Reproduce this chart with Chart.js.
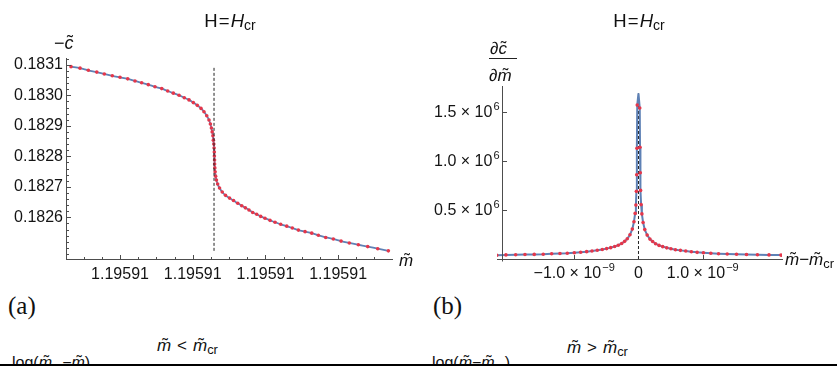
<!DOCTYPE html>
<html>
<head>
<meta charset="utf-8">
<script src="https://cdn.jsdelivr.net/npm/chart.js@4.4.0/dist/chart.umd.min.js"></script>
<style>
  body { margin: 0; background: #fff; }
  #page { position: relative; width: 837px; height: 366px; overflow: hidden;
          font-family: "Liberation Sans", Arial, sans-serif; color: #111; }
  canvas { position: absolute; top: 0; }
  .t { position: absolute; line-height: 1; white-space: nowrap; }
  .it { font-style: italic; }
  .sub { font-size: 0.76em; position: relative; top: 0.22em; font-style: normal; }
  .op { margin: 0 0.06em; }
  .acc { position: relative; display: inline-block; font-style: italic; }
  .acc::after { content: "\02DC"; position: absolute; left: 0.12em; right: 0; top: -0.05em;
                text-align: center; font-style: normal; }
  .serif { font-family: "Liberation Serif", "DejaVu Serif", serif; }
  .frac-bar { position: absolute; height: 1px; background: #222; }
  #rule { position: absolute; left: 0; top: 364px; width: 837px; height: 2px; background: #000; }
</style>
</head>
<body>
<div id="page">
  <canvas id="chartA" width="420" height="290" style="left:0"></canvas>
  <canvas id="chartB" width="417" height="290" style="left:420px"></canvas>

  <div class="t" style="left:130px; top:12px; width:200px; text-align:center; font-size:18.5px">H<span class="op">=</span><span class="it">H</span><span class="sub">cr</span></div>
  <div class="t" style="left:539px; top:12px; width:200px; text-align:center; font-size:18.5px">H<span class="op">=</span><span class="it">H</span><span class="sub">cr</span></div>

  <div class="t" style="left:54px; top:34px; font-size:18px">−<span class="acc">c</span></div>
  <div class="t" style="left:399px; top:252px; font-size:17px"><span class="acc">m</span></div>

  <div class="t" style="left:490px; top:40px; font-size:17px"><span class="it">∂</span><span class="acc">c</span></div>
  <div class="frac-bar" style="left:489px; top:58px; width:28px"></div>
  <div class="t" style="left:489px; top:67px; font-size:17px"><span class="it">∂</span><span class="acc">m</span></div>
  <div class="t" style="left:785px; top:251px; font-size:17px"><span class="acc">m</span>−<span class="acc">m</span><span class="sub">cr</span></div>

  <div class="t serif" style="left:8px; top:293px; font-size:25px">(a)</div>
  <div class="t serif" style="left:433px; top:293px; font-size:25px">(b)</div>

  <div class="t" style="left:157px; top:337px; font-size:17px"><span class="acc">m</span><span class="op" style="margin:0 0.35em">&lt;</span><span class="acc">m</span><span class="sub">cr</span></div>
  <div class="t" style="left:567px; top:339px; font-size:17px"><span class="acc">m</span><span class="op" style="margin:0 0.35em">&gt;</span><span class="acc">m</span><span class="sub">cr</span></div>

  <div class="t" style="left:12px; top:355px; font-size:16px">log(<span class="acc">m</span><span class="sub">cr</span>−<span class="acc">m</span>)</div>
  <div class="t" style="left:432px; top:355px; font-size:16px">log(<span class="acc">m</span>−<span class="acc">m</span><span class="sub">cr</span>)</div>

  <div id="rule"></div>
</div>

<script>
// panel (a): -c against m, x in units of one major tick step
const A_M = [-0.674, -0.550, -0.436, -0.320, -0.216, -0.106, 0.000, 0.106, 0.206, 0.298,
  0.389, 0.481, 0.574, 0.656, 0.733, 0.812, 0.884, 0.949, 1.008, 1.063,
  1.114, 1.155, 1.193, 1.224, 1.243, 1.257, 1.268, 1.278, 1.284, 1.290,
  1.294, 1.297, 1.298, 1.300, 1.301, 1.304, 1.308, 1.315, 1.326, 1.343,
  1.369, 1.406, 1.451, 1.506, 1.561, 1.619, 1.674, 1.724, 1.774, 1.825,
  1.880, 1.935, 1.994, 2.063, 2.132, 2.210, 2.293, 2.370, 2.453, 2.545,
  2.637, 2.728, 2.829, 2.934, 3.040, 3.154, 3.278, 3.407, 3.545, 3.691];
const A_C = [0.183094, 0.183089, 0.183082, 0.183076, 0.183070, 0.183064, 0.183059, 0.183054, 0.183047, 0.183041,
  0.183035, 0.183028, 0.183022, 0.183014, 0.183007, 0.183000, 0.182992, 0.182985, 0.182976, 0.182967,
  0.182957, 0.182946, 0.182933, 0.182919, 0.182906, 0.182893, 0.182880, 0.182867, 0.182853, 0.182840,
  0.182827, 0.182814, 0.182801, 0.182788, 0.182775, 0.182762, 0.182749, 0.182735, 0.182722, 0.182709,
  0.182696, 0.182683, 0.182672, 0.182663, 0.182655, 0.182646, 0.182638, 0.182631, 0.182624, 0.182616,
  0.182610, 0.182603, 0.182597, 0.182590, 0.182584, 0.182577, 0.182571, 0.182565, 0.182558, 0.182553,
  0.182548, 0.182541, 0.182534, 0.182529, 0.182522, 0.182516, 0.182510, 0.182504, 0.182497, 0.182490];
const A_MCR = 1.293;
const A_MCR_SPAN = [0.182490, 0.183096];
const A_X_TICKS = [0, 1, 2, 3];
const A_X_LABELS = ['1.19591', '1.19591', '1.19591', '1.19591'];
const A_X_MINOR = [-0.5, -0.25, 0.25, 0.5, 0.75, 1.25, 1.5, 1.75, 2.25, 2.5, 2.75, 3.25, 3.5];
const A_Y_TICKS = [0.1826, 0.1827, 0.1828, 0.1829, 0.1830, 0.1831];
const A_Y_LABELS = ['0.1826', '0.1827', '0.1828', '0.1829', '0.1830', '0.1831'];
const A_Y_MINOR = [0.18248, 0.18250, 0.18252, 0.18254, 0.18256, 0.18258,
  0.18262, 0.18264, 0.18266, 0.18268, 0.18272, 0.18274, 0.18276, 0.18278,
  0.18282, 0.18284, 0.18286, 0.18288, 0.18292, 0.18294, 0.18296, 0.18298,
  0.18302, 0.18304, 0.18306, 0.18308, 0.18312];

// panel (b): dc/dm (units of 1e6) against m - m_cr (units of 1e-9)
const B_X_LEFT = [-2.205, -2.061, -1.910, -1.765, -1.621, -1.481, -1.350, -1.221, -1.107, -0.998,
  -0.899, -0.806, -0.723, -0.641, -0.563, -0.495, -0.432, -0.370, -0.314, -0.261,
  -0.215, -0.174, -0.132, -0.096, -0.070, -0.052, -0.040, -0.032, -0.027, -0.023, -0.019];
const B_Y_LEFT = [0.039, 0.042, 0.044, 0.046, 0.047, 0.049, 0.053, 0.056, 0.059, 0.064,
  0.069, 0.075, 0.081, 0.089, 0.097, 0.106, 0.116, 0.128, 0.141, 0.158,
  0.180, 0.206, 0.248, 0.305, 0.380, 0.465, 0.550, 0.690, 0.860, 1.130, 1.570];
const B_X_RIGHT = [0.020, 0.024, 0.028, 0.033, 0.041, 0.053, 0.072, 0.098, 0.135, 0.178,
  0.220, 0.266, 0.320, 0.377, 0.440, 0.505, 0.575, 0.652, 0.735, 0.822,
  0.912, 1.010, 1.125, 1.245, 1.380, 1.525, 1.680, 1.850, 2.030, 2.215];
const B_Y_RIGHT = [1.540, 1.140, 0.880, 0.700, 0.555, 0.460, 0.372, 0.300, 0.244, 0.203,
  0.178, 0.156, 0.139, 0.126, 0.114, 0.104, 0.095, 0.088, 0.081, 0.074,
  0.068, 0.063, 0.058, 0.054, 0.051, 0.048, 0.046, 0.044, 0.042, 0.040];
const B_PEAK = 1.69;
const B_MCR_SPAN = [0, 1.69];
const B_X_TICKS = [-1, 0, 1];
const B_X_LABELS = [['−1.0 × 10', '−9'], ['0', ''], ['1.0 × 10', '−9']];
const B_Y_TICKS = [0.5, 1.0, 1.5];
const B_Y_LABELS = [['0.5 × 10', '6'], ['1.0 × 10', '6'], ['1.5 × 10', '6']];
const B_Y_AXIS_AT = -2.123;

const BLUE = '#5e81b5';
const RED = '#e5364a';
const AXIS = '#4d4d4d';
const INK = '#141414';
const FONT = '"Liberation Sans", Arial, sans-serif';

Chart.defaults.font.family = FONT;

const zip = (xs, ys) => xs.map((x, i) => ({ x, y: ys[i] }));

// Mathematica-style axes: inward tick marks, optional free-standing y axis,
// and tick labels with superscript exponents
const mmaAxes = {
  id: 'mmaAxes',
  afterDatasetsDraw(chart, args, o) {
    const { ctx, chartArea: a } = chart;
    const xs = chart.scales.x, ys = chart.scales.y;
    const free = o.yAxisAt !== undefined;
    const ax = free ? Math.round(xs.getPixelForValue(o.yAxisAt)) + 0.5 : a.left + 0.5;
    const ay = Math.round(a.bottom) + 0.5;
    ctx.save();
    ctx.strokeStyle = AXIS;
    ctx.lineWidth = 1;
    ctx.beginPath();
    if (free) {
      ctx.moveTo(ax, ay + 2);
      ctx.lineTo(ax, a.top);
    }
    const xt = (v, len) => {
      const p = Math.round(xs.getPixelForValue(v)) + 0.5;
      ctx.moveTo(p, ay); ctx.lineTo(p, ay - len);
    };
    const yt = (v, len) => {
      const p = Math.round(ys.getPixelForValue(v)) + 0.5;
      ctx.moveTo(ax, p); ctx.lineTo(ax + len, p);
    };
    (o.xMajor || []).forEach(v => xt(v, 4.5));
    (o.xMinor || []).forEach(v => xt(v, 2.5));
    (o.yMajor || []).forEach(v => yt(v, 4.5));
    (o.yMinor || []).forEach(v => yt(v, 2.5));
    ctx.stroke();

    ctx.fillStyle = INK;
    ctx.textBaseline = 'alphabetic';
    ctx.textAlign = 'left';
    const big = '16px ' + FONT, small = '11px ' + FONT;
    const widths = ([base, sup]) => {
      ctx.font = big; const w1 = ctx.measureText(base).width;
      ctx.font = small; const w2 = sup ? ctx.measureText(sup).width + 1 : 0;
      return [w1, w2];
    };
    const put = ([base, sup], x, y, w1) => {
      ctx.font = big; ctx.fillText(base, x, y);
      if (sup) { ctx.font = small; ctx.fillText(sup, x + w1 + 1, y - 7); }
    };
    if (o.yLabels) o.yLabels.ticks.forEach((v, i) => {
      const lab = o.yLabels.text[i];
      const [w1, w2] = widths(lab);
      const p = ys.getPixelForValue(v);
      put(lab, ax - 3 - w1 - w2, p + 5.5, w1);
    });
    if (o.xLabels) o.xLabels.ticks.forEach((v, i) => {
      const lab = o.xLabels.text[i];
      const [w1, w2] = widths(lab);
      const p = xs.getPixelForValue(v);
      put(lab, p - (w1 + w2) / 2, ay + 18.5, w1);
    });
    ctx.restore();
  }
};

const hidden = { legend: { display: false }, tooltip: { enabled: false } };

new Chart(document.getElementById('chartA'), {
  type: 'scatter',
  data: {
    datasets: [
      { data: A_MCR_SPAN.map(y => ({ x: A_MCR, y })), showLine: true, borderColor: '#222',
        borderWidth: 1, borderDash: [3, 2], pointRadius: 0 },
      { data: zip(A_M, A_C), showLine: false, pointRadius: 1.8, pointBorderWidth: 0,
        pointBackgroundColor: RED },
      { data: zip(A_M, A_C), showLine: true, borderColor: BLUE, borderWidth: 1.8,
        pointRadius: 0, cubicInterpolationMode: 'monotone' }
    ]
  },
  options: {
    responsive: false, animation: false, devicePixelRatio: 1,
    layout: { padding: { left: 0, top: 58, right: 28, bottom: 7 } },
    plugins: Object.assign({}, hidden, {
      mmaAxes: { xMajor: A_X_TICKS, xMinor: A_X_MINOR, yMajor: A_Y_TICKS, yMinor: A_Y_MINOR }
    }),
    scales: {
      x: {
        type: 'linear', min: -0.743, max: 3.741,
        afterBuildTicks: s => { s.ticks = A_X_TICKS.map(v => ({ value: v })); },
        afterFit: s => { s.height = 24; },
        grid: { display: false, drawTicks: false },
        border: { display: true, color: AXIS, width: 1 },
        ticks: { callback: (v, i) => A_X_LABELS[i], font: { size: 16 }, color: INK,
                 padding: 6, maxRotation: 0, autoSkip: false }
      },
      y: {
        type: 'linear', min: 0.1824633, max: 0.1831223,
        afterBuildTicks: s => { s.ticks = A_Y_TICKS.map(v => ({ value: v })); },
        afterFit: s => { s.width = 66; },
        grid: { display: false, drawTicks: false },
        border: { display: true, color: AXIS, width: 1 },
        ticks: { callback: (v, i) => A_Y_LABELS[i], font: { size: 16 }, color: INK,
                 padding: 3, autoSkip: false }
      }
    }
  },
  plugins: [mmaAxes]
});

const bLine = zip(B_X_LEFT, B_Y_LEFT).concat([{ x: 0, y: B_PEAK }], zip(B_X_RIGHT, B_Y_RIGHT));
const bDots = zip(B_X_LEFT, B_Y_LEFT).concat(zip(B_X_RIGHT, B_Y_RIGHT));

new Chart(document.getElementById('chartB'), {
  type: 'scatter',
  data: {
    datasets: [
      { data: bDots, showLine: false, pointRadius: 1.8, pointBorderWidth: 0,
        pointBackgroundColor: RED },
      { data: bLine, showLine: true, borderColor: BLUE, borderWidth: 2, pointRadius: 0, tension: 0 },
      { data: B_MCR_SPAN.map(y => ({ x: 0, y })), showLine: true, borderColor: '#222',
        borderWidth: 1, borderDash: [3, 2], pointRadius: 0 }
    ]
  },
  options: {
    responsive: false, animation: false, devicePixelRatio: 1,
    layout: { padding: { left: 0, top: 86, right: 55, bottom: 7 } },
    plugins: Object.assign({}, hidden, {
      mmaAxes: {
        yAxisAt: B_Y_AXIS_AT,
        xMajor: B_X_TICKS.filter(v => v !== 0), yMajor: B_Y_TICKS,
        xLabels: { ticks: B_X_TICKS, text: B_X_LABELS },
        yLabels: { ticks: B_Y_TICKS, text: B_Y_LABELS }
      }
    }),
    scales: {
      x: {
        type: 'linear', min: -2.2, max: 2.232,
        afterFit: s => { s.height = 24; },
        grid: { display: false, drawTicks: false },
        border: { display: true, color: AXIS, width: 1 },
        ticks: { display: false }
      },
      y: {
        type: 'linear', min: 0, max: 1.765,
        afterFit: s => { s.width = 77; },
        grid: { display: false, drawTicks: false },
        border: { display: false },
        ticks: { display: false }
      }
    }
  },
  plugins: [mmaAxes]
});
</script>
</body>
</html>
